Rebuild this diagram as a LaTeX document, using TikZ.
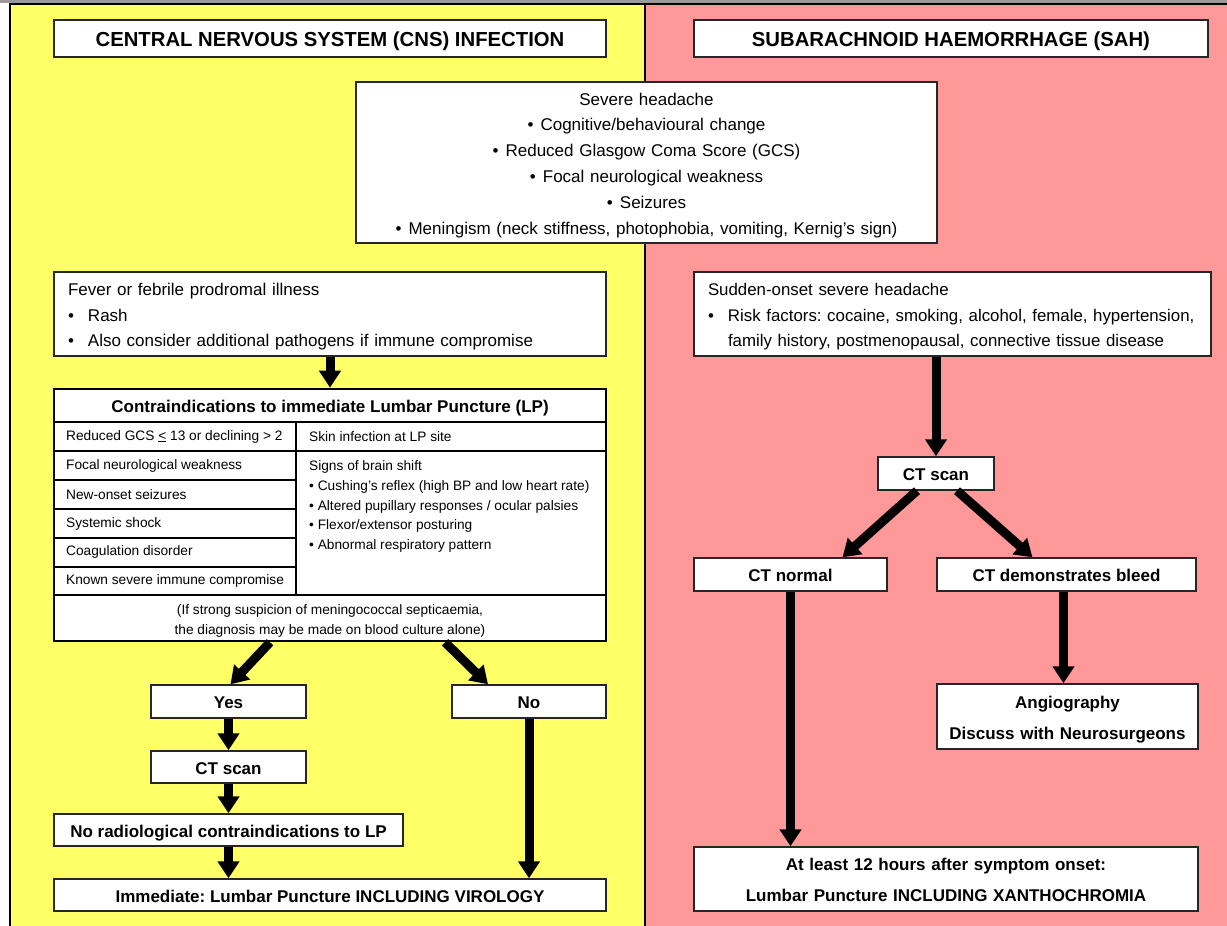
\documentclass[tikz,border=0pt]{standalone}
\usepackage{fontspec}
\setmainfont{Liberation Sans}
\usetikzlibrary{arrows.meta,calc}
\definecolor{cnsyellow}{HTML}{FFFF66}
\definecolor{sahpink}{HTML}{FF9898}
\definecolor{boxline}{HTML}{262626}
\definecolor{topband}{HTML}{9A9A9A}
% invisible rule giving every line of a box the same ascent and descent
\newcommand\lstrut{\rule[-0.25em]{0pt}{\dimexpr1.216em+2pt\relax}}

\begin{document}
\frenchspacing
\begin{tikzpicture}[x=1pt,y=-1pt,
  box/.style={draw=boxline, line width=1.4pt, fill=white, inner sep=0pt, align=center,
    execute at begin node=\lstrut, execute at end node=\lstrut},
  headbox/.style={box, font=\fontsize{20.3}{24}\selectfont\bfseries},
  boldbox/.style={box, font=\fontsize{17}{31}\selectfont\bfseries},
  textbox/.style={box, font=\fontsize{17}{25.8}\selectfont},
  listbox/.style={box, font=\fontsize{17}{25.5}\selectfont, align=left, inner xsep=14pt},
  cellt/.style={font=\fontsize{13.7}{19.7}\selectfont, inner sep=0pt, anchor=west, align=left},
  gridline/.style={line width=1.1pt, draw=black},
  flow/.style={line width=9pt, -{Triangle[length=17pt,width=21pt]}},
]
\useasboundingbox (0,0) rectangle (1227,926);

% page background: two coloured panels
\fill[topband] (0,0) rectangle (1227,3);
\fill[cnsyellow] (10,4) rectangle (645,926);
\fill[sahpink] (645,4) rectangle (1227,926);
\draw[line width=1.3pt] (1227,4) -- (10,4) -- (10,926);
\draw[line width=1.3pt] (645,4) -- (645,926);

% panel titles
\node[headbox, minimum width=552pt, minimum height=37pt] (cns) at (330,38.5) {CENTRAL NERVOUS SYSTEM (CNS) INFECTION};
\node[headbox, minimum width=514pt, minimum height=37pt] (sah) at (951,38.5) {SUBARACHNOID HAEMORRHAGE (SAH)};

% shared symptoms
\node[textbox, text width=581pt, minimum height=161pt] (sym) at (646.5,162.5)
 {Severe headache\\
  \makebox[13pt][l]{•}Cognitive/behavioural change\\
  \makebox[13pt][l]{•}Reduced Glasgow Coma Score (GCS)\\
  \makebox[13pt][l]{•}Focal neurological weakness\\
  \makebox[13pt][l]{•}Seizures\\
  \makebox[13pt][l]{•}Meningism (neck stiffness, photophobia, vomiting, Kernig’s sign)};

% CNS branch
\node[listbox, text width=524pt, minimum height=84pt] (fever) at (330,314)
 {Fever or febrile prodromal illness\\
  \makebox[20pt][l]{•}Rash\\
  \makebox[20pt][l]{•}Also consider additional pathogens if immune compromise};

\node[draw=black, line width=2.6pt, fill=white, minimum width=552pt, minimum height=252pt, inner sep=0pt] (contra) at (330,515) {};
\draw[gridline] (55,422) -- (605,422);
\draw[gridline] (55,595) -- (605,595);
\draw[gridline] (296,422) -- (296,595);
\foreach \yy in {451,480,509,538,567} \draw[gridline] (55,\yy) -- (296,\yy);
\draw[gridline] (296,451) -- (605,451);

\node[font=\fontsize{17}{20}\selectfont\bfseries, inner sep=0pt] (chead) at (330,408.5) {Contraindications to immediate Lumbar Puncture (LP)};
\node[cellt] (c1) at (66,436.5) {Reduced GCS \underline{<} 13 or declining > 2};
\node[cellt] (c2) at (66,465.5) {Focal neurological weakness};
\node[cellt] (c3) at (66,494.5) {New-onset seizures};
\node[cellt] (c4) at (66,523.5) {Systemic shock};
\node[cellt] (c5) at (66,552) {Coagulation disorder};
\node[cellt] (c6) at (66,581) {Known severe immune compromise};
\node[cellt] (r1) at (309,436.5) {Skin infection at LP site};
\node[cellt] (r2) at (309,506.5) {Signs of brain shift\\
  • Cushing’s reflex (high BP and low heart rate)\\
  • Altered pupillary responses / ocular palsies\\
  • Flexor/extensor posturing\\
  • Abnormal respiratory pattern};
\node[cellt, anchor=center, align=center, font=\fontsize{13.7}{20}\selectfont] (foot) at (330,621)
 {(If strong suspicion of meningococcal septicaemia,\\the diagnosis may be made on blood culture alone)};

\node[boldbox, minimum width=155pt, minimum height=33pt] (yes) at (228.5,701.5) {Yes};
\node[boldbox, minimum width=154pt, minimum height=33pt] (no) at (529,701.5) {No};
\node[boldbox, minimum width=155pt, minimum height=32pt] (ctl) at (228.5,767) {CT scan};
\node[boldbox, minimum width=349pt, minimum height=32pt] (norad) at (228.5,830) {No radiological contraindications to LP};
\node[boldbox, minimum width=552pt, minimum height=32pt] (immed) at (330,895) {Immediate: Lumbar Puncture INCLUDING VIROLOGY};

% SAH branch
\node[listbox, text width=489pt, minimum height=84pt, font=\fontsize{16.85}{25.5}\selectfont] (sudden) at (952.5,314)
 {Sudden-onset severe headache\\
  \makebox[20pt][l]{•}\mbox{Risk factors: cocaine, smoking, alcohol, female, hypertension,}\\
  \hspace*{20pt}family history, postmenopausal, connective tissue disease};
\node[boldbox, minimum width=116pt, minimum height=33pt] (ctr) at (936,473.5) {CT scan};
\node[boldbox, minimum width=193pt, minimum height=33pt] (ctn) at (790.5,574.5) {CT normal};
\node[boldbox, minimum width=259pt, minimum height=33pt] (ctb) at (1066.5,574.5) {CT demonstrates bleed};
\node[boldbox, text width=261pt, minimum height=65pt] (angio) at (1067.5,716.5) {Angiography\\Discuss with Neurosurgeons};
\node[boldbox, text width=504pt, minimum height=64pt] (lpx) at (946,879) {At least 12 hours after symptom onset:\\Lumbar Puncture INCLUDING XANTHOCHROMIA};

% connectors
\draw[flow] (fever.south) -- (contra.north);
\draw[flow] ($(contra.south)+(-60,0)$) -- ($(yes.north)+(2,0)$);
\draw[flow] ($(contra.south)+(115,0)$) -- ($(no.north)+(-41,0)$);
\draw[flow] (yes.south) -- (ctl.north);
\draw[flow] (ctl.south) -- (norad.north);
\draw[flow] (norad.south) -- (norad.south |- immed.north);
\draw[flow] (no.south) -- (no.south |- immed.north);

\draw[flow] (ctr.north |- sudden.south) -- (ctr.north);
\draw[flow] ($(ctr.south)+(-19,0)$) -- ($(ctn.north)+(52,0)$);
\draw[flow] ($(ctr.south)+(21,0)$) -- ($(ctb.north)+(-34,0)$);
\draw[flow] (ctn.south) -- (ctn.south |- lpx.north);
\draw[flow] ($(ctb.south)+(-3,0)$) -- ($(angio.north)+(-4,0)$);
\end{tikzpicture}
\end{document}
